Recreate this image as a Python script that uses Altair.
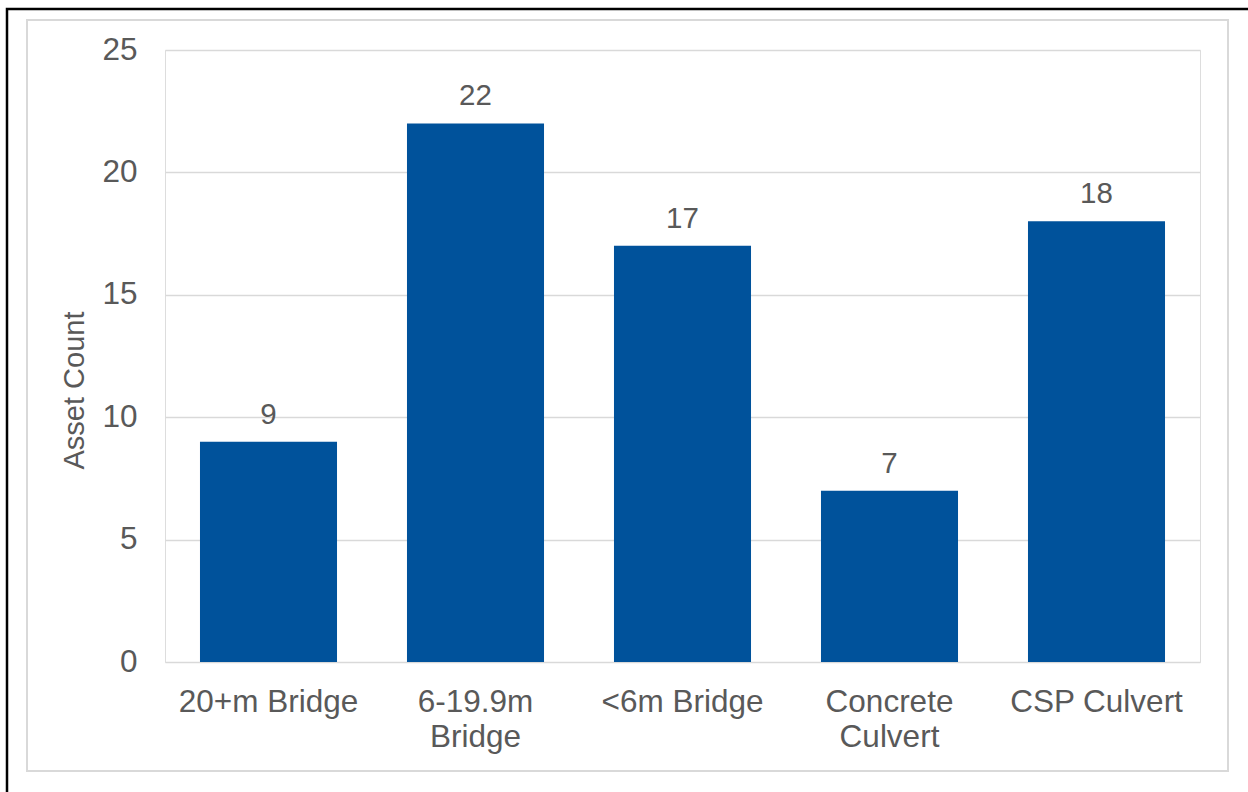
import altair as alt
import pandas as pd
import json

categories = ["20+m Bridge", "6-19.9m Bridge", "<6m Bridge", "Concrete Culvert", "CSP Culvert"]
values = [9, 22, 17, 7, 18]
label_lines = {
    "20+m Bridge": ["20+m Bridge"],
    "6-19.9m Bridge": ["6-19.9m", "Bridge"],
    "<6m Bridge": ["<6m Bridge"],
    "Concrete Culvert": ["Concrete", "Culvert"],
    "CSP Culvert": ["CSP Culvert"],
}
y_ticks = [0, 5, 10, 15, 20, 25]

df = pd.DataFrame({"category": categories, "count": values})

FONT = "Liberation Sans"
TXT = "#595959"
BAR = "#00529B"
GRID = "#d9d9d9"

label_expr = "(" + json.dumps(label_lines) + ")[datum.value]"

W, H = 1035, 612
LEFT, TOP = 165, 50

x_enc = alt.X(
    "category:N",
    sort=categories,
    scale=alt.Scale(domain=categories, paddingInner=0.338, paddingOuter=0.169),
    axis=alt.Axis(
        title=None,
        labelAngle=0,
        labelFont=FONT,
        labelFontSize=31.5,
        labelColor=TXT,
        labelPadding=24,
        labelLineHeight=35,
        labelExpr=label_expr,
        ticks=False,
        domain=False,
        grid=False,
    ),
)
y_enc = alt.Y(
    "count:Q",
    scale=alt.Scale(domain=[0, 25], nice=False),
    axis=alt.Axis(
        title="Asset Count",
        values=y_ticks,
        titleFont=FONT,
        titleFontSize=29,
        titleFontWeight="normal",
        titleColor=TXT,
        titleAngle=270,
        titleAlign="center",
        titleBaseline="alphabetic",
        titleX=-82,
        titleY=340,
        labelFont=FONT,
        labelFontSize=31.5,
        labelColor=TXT,
        labelPadding=28,
        ticks=False,
        domain=False,
        grid=True,
        gridColor=GRID,
        gridWidth=1.5,
    ),
)

frame_gray = alt.Chart(pd.DataFrame({"a": [0]})).mark_rect(
    filled=False, stroke=GRID, strokeWidth=2, clip=False
).encode(
    x=alt.value(27 - LEFT), x2=alt.value(1228 - LEFT),
    y=alt.value(20 - TOP), y2=alt.value(771 - TOP),
)
frame_black = alt.Chart(pd.DataFrame({"a": [0]})).mark_rect(
    filled=False, stroke="black", strokeWidth=2.5, clip=False
).encode(
    x=alt.value(7 - LEFT), x2=alt.value(1260 - LEFT),
    y=alt.value(9 - TOP), y2=alt.value(800 - TOP),
)

base = alt.Chart(df)
bars = base.mark_bar(color=BAR).encode(x=x_enc, y=y_enc)
texts = base.mark_text(
    font=FONT, fontSize=29.5, color=TXT, baseline="alphabetic", dy=-18
).encode(x=alt.X("category:N", sort=categories), y="count:Q", text="count:Q")

chart = alt.layer(frame_black, frame_gray, bars, texts).properties(
    width=W,
    height=H,
    autosize=alt.AutoSizeParams(type="none"),
    padding={"left": LEFT, "top": TOP, "right": 1248 - LEFT - W, "bottom": 792 - TOP - H},
).configure_view(stroke=None).configure(background="white")

chart.save("out.html", embed_options={"renderer": "svg", "actions": False})
